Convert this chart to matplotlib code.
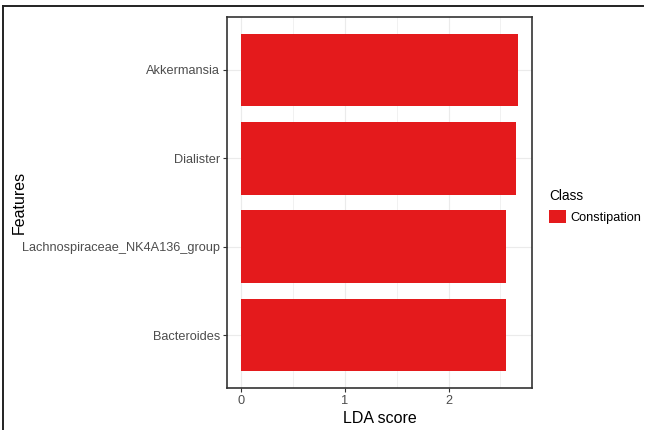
import matplotlib
matplotlib.use("Agg")
import matplotlib.pyplot as plt
from matplotlib.lines import Line2D
from matplotlib.patches import Patch

plt.rcParams['font.family'] = ['Liberation Sans', 'DejaVu Sans']

# LEfSe results: feature names (bottom to top) and LDA scores
features = ["Bacteroides", "Lachnospiraceae_NK4A136_group", "Dialister", "Akkermansia"]
lda_scores = [2.55, 2.55, 2.65, 2.67]
class_name = "Constipation"
bar_color = "#E41A1C"

W, H = 645, 430
fig = plt.figure(figsize=(W / 100, H / 100), dpi=100)

# panel placement in pixels
left, right, top, bottom = 227, 532, 17, 388
ax = fig.add_axes([left / W, 1 - bottom / H, (right - left) / W, (bottom - top) / H])

ypos = list(range(1, len(features) + 1))
ax.barh(ypos, lda_scores, height=0.82, color=bar_color, zorder=3)

xmax = max(lda_scores)
pad = 0.05 * xmax
ax.set_xlim(-pad, xmax + pad)
ax.set_ylim(0.4, len(features) + 0.6)

ax.set_xticks([0, 1, 2])
ax.set_xticks([0.5, 1.5, 2.5], minor=True)
ax.set_yticks(ypos)
ax.set_yticklabels(features)

grid_col = "#ebebeb"
ax.grid(True, which="major", color=grid_col, linewidth=0.8, zorder=0)
ax.grid(True, which="minor", axis="x", color=grid_col, linewidth=0.5, zorder=0)
ax.set_axisbelow(True)

for s in ax.spines.values():
    s.set_color("#333333")
    s.set_linewidth(1.2)

ax.tick_params(axis="both", which="major", length=3, width=0.8, color="#333333",
               labelsize=9.2, labelcolor="#4d4d4d", pad=2)
ax.tick_params(axis="both", which="minor", length=0)

ax.set_xlabel("LDA score", fontsize=11.5, color="black", labelpad=3)
fig.text(19 / W, 1 - (top + bottom) / 2 / H, "Features", rotation=90,
         fontsize=11.5, color="black", ha="center", va="center")

# legend
handles = [Patch(facecolor=bar_color, edgecolor="none", label=class_name)]
leg = fig.legend(handles=handles, title="Class", loc="upper left",
                 bbox_to_anchor=(544 / W, 1 - 184 / H), frameon=False,
                 fontsize=9.2, title_fontsize=9.8, handlelength=1.3, handleheight=1.3,
                 handletextpad=0.4, borderaxespad=0)
leg._legend_box.align = "left"

# frame lines along the top and left edges of the figure
fig.add_artist(Line2D([3 / W, 3 / W], [0, 1 - 6 / H], transform=fig.transFigure,
                      color="#222222", linewidth=1.4))
fig.add_artist(Line2D([3 / W, 643 / W], [1 - 6 / H, 1 - 6 / H], transform=fig.transFigure,
                      color="#222222", linewidth=1.4))

fig.savefig("out.png", dpi=100)
